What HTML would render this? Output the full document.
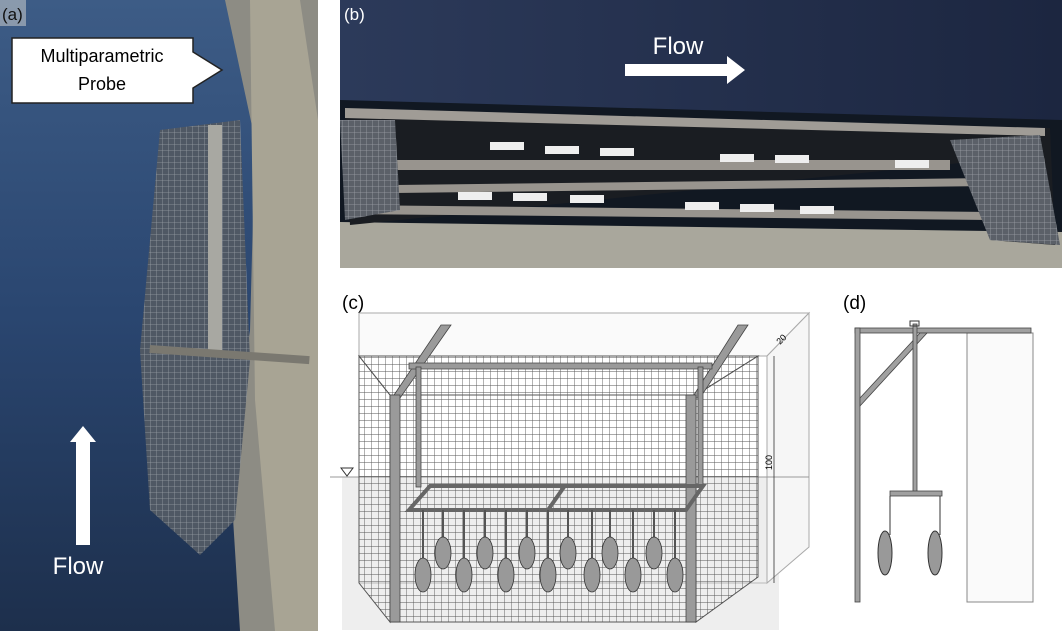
<!DOCTYPE html>
<html><head><meta charset="utf-8"><style>
html,body{margin:0;padding:0;background:#fff;width:1062px;height:631px;overflow:hidden}
svg{display:block;font-family:"Liberation Sans",sans-serif}
</style></head><body>
<svg width="1062" height="631" viewBox="0 0 1062 631" xmlns="http://www.w3.org/2000/svg">
<defs>
<linearGradient id="wa" x1="0" y1="0" x2="0" y2="1"><stop offset="0" stop-color="#3d5c86"/><stop offset="0.5" stop-color="#2a4670"/><stop offset="1" stop-color="#1d2f4c"/></linearGradient>
<linearGradient id="wb" x1="0" y1="0" x2="1" y2="0"><stop offset="0" stop-color="#2c3a5a"/><stop offset="1" stop-color="#1c2640"/></linearGradient>
<pattern id="mesh" width="7" height="7" patternUnits="userSpaceOnUse"><path d="M0 0H7M0 0V7" stroke="#555" stroke-width="0.9" fill="none"/></pattern>
<pattern id="meshp" width="6" height="6" patternUnits="userSpaceOnUse"><path d="M0 0H6M0 0V6" stroke="#c8ccd0" stroke-width="0.8" fill="none"/></pattern>
</defs>
<!-- (a) photo -->
<rect x="0" y="0" width="318" height="631" fill="url(#wa)"/>
<polygon points="225,0 318,0 318,631 240,631 230,470 250,330 255,140" fill="#8d8c84"/>
<polygon points="250,0 300,0 318,120 318,631 275,631 255,400" fill="#a8a494"/>
<polygon points="160,130 240,120 250,360 235,520 200,555 150,510 140,350" fill="#4f5864"/>
<polygon points="160,130 240,120 250,360 235,520 200,555 150,510 140,350" fill="url(#meshp)" opacity="0.6"/>
<rect x="208" y="125" width="14" height="230" fill="#a8a8a2"/>
<rect x="150" y="345" width="160" height="8" fill="#7a7870" transform="rotate(4 150 345)"/>
<rect x="0" y="0" width="26" height="26" fill="#d8d8d4" opacity="0.5"/>
<text x="2" y="20" font-size="17" fill="#111">(a)</text>
<polygon points="12,38 193,38 193,52 222,70 193,88 193,103 12,103" fill="#fff" stroke="#222" stroke-width="1.5"/>
<text x="102" y="62" font-size="18" text-anchor="middle" fill="#000">Multiparametric</text>
<text x="102" y="90" font-size="18" text-anchor="middle" fill="#000">Probe</text>
<polygon points="76,545 76,442 70,442 83,426 96,442 90,442 90,545" fill="#fff"/>
<text x="78" y="574" font-size="24" text-anchor="middle" fill="#fff">Flow</text>
<!-- (b) photo -->
<rect x="340" y="0" width="722" height="268" fill="url(#wb)"/>
<polygon points="340,100 1062,120 1062,268 340,268" fill="#111822"/>
<polygon points="340,222 1062,232 1062,268 340,268" fill="#a9a79c"/>
<polygon points="345,110 1050,128 1055,245 990,240 990,160 350,225" fill="#1a1d22"/>
<polygon points="345,108 1045,128 1045,136 345,118" fill="#a09c96"/>
<polygon points="395,160 950,160 950,170 395,170" fill="#98948e"/>
<polygon points="395,185 990,178 990,186 395,193" fill="#98948e"/>
<polygon points="345,205 990,212 990,220 345,214" fill="#98948e"/>
<polygon points="340,120 395,120 400,210 345,220" fill="#5b6068"/>
<polygon points="340,120 395,120 400,210 345,220" fill="url(#meshp)" opacity="0.6"/>
<polygon points="950,140 1040,135 1060,245 990,240" fill="#5b6068"/>
<polygon points="950,140 1040,135 1060,245 990,240" fill="url(#meshp)" opacity="0.6"/>
<g fill="#eee"><rect x="490" y="142" width="34" height="8"/><rect x="545" y="146" width="34" height="8"/><rect x="600" y="148" width="34" height="8"/><rect x="720" y="154" width="34" height="8"/><rect x="775" y="155" width="34" height="8"/><rect x="895" y="160" width="34" height="8"/><rect x="458" y="192" width="34" height="8"/><rect x="513" y="193" width="34" height="8"/><rect x="570" y="195" width="34" height="8"/><rect x="685" y="202" width="34" height="8"/><rect x="740" y="204" width="34" height="8"/><rect x="800" y="206" width="34" height="8"/></g>
<text x="344" y="20" font-size="17" fill="#fff">(b)</text>
<text x="678" y="54" font-size="24" text-anchor="middle" fill="#fff">Flow</text>
<polygon points="625,64 727,64 727,56 745,70 727,84 727,76 625,76" fill="#fff"/>
<!-- (c) drawing -->
<text x="342" y="309" font-size="19" fill="#000">(c)</text>
<polygon points="342,477 779,477 779,630 342,630" fill="#eeeeee"/>
<polygon points="359,356 767,356 809,313 359,313" fill="#fafafa" stroke="#aaa"/>
<polygon points="767,356 809,313 809,547 767,583" fill="#f6f6f6" stroke="#aaa"/>
<line x1="359" y1="313" x2="359" y2="583" stroke="#aaa"/>
<line x1="359" y1="583" x2="767" y2="583" stroke="#bbb"/>
<line x1="330" y1="477" x2="809" y2="477" stroke="#999"/>
<polygon points="341,468 353,468 347,476" fill="none" stroke="#333"/>
<polygon points="359,356 758,356 696,395 390,395" fill="url(#mesh)" stroke="#555"/>
<polygon points="359,356 390,395 390,622 359,583" fill="url(#mesh)" stroke="#555"/>
<polygon points="758,356 696,395 696,622 758,577" fill="url(#mesh)" stroke="#555"/>
<rect x="390" y="395" width="306" height="227" fill="url(#mesh)" stroke="#555"/>
<g fill="#9a9a9a" stroke="#444" stroke-width="0.8">
<polygon points="441,325 451,325 400,398 392,398"/>
<polygon points="738,325 748,325 700,398 692,398"/>
<polygon points="409,363 712,363 712,369 409,369"/>
<rect x="416" y="367" width="5" height="120"/><rect x="698" y="367" width="5" height="120"/>
<rect x="390" y="395" width="10" height="227"/><rect x="686" y="395" width="10" height="227"/>
<polygon points="430,486 703,486 686,510 409,510" fill="none" stroke="#666" stroke-width="4"/>
<line x1="564" y1="487" x2="548" y2="510" stroke="#666" stroke-width="4"/>
</g>
<g stroke="#555" stroke-width="2">
<line x1="443" y1="510" x2="443" y2="537"/><line x1="485" y1="510" x2="485" y2="537"/><line x1="527" y1="510" x2="527" y2="537"/><line x1="568" y1="510" x2="568" y2="537"/><line x1="610" y1="510" x2="610" y2="537"/><line x1="654" y1="510" x2="654" y2="537"/>
<line x1="423" y1="510" x2="423" y2="560"/><line x1="464" y1="510" x2="464" y2="560"/><line x1="506" y1="510" x2="506" y2="560"/><line x1="548" y1="510" x2="548" y2="560"/><line x1="592" y1="510" x2="592" y2="560"/><line x1="633" y1="510" x2="633" y2="560"/><line x1="675" y1="510" x2="675" y2="560"/>
</g>
<g fill="#999" stroke="#333" stroke-width="0.8">
<ellipse cx="443" cy="553" rx="8" ry="16"/><ellipse cx="485" cy="553" rx="8" ry="16"/><ellipse cx="527" cy="553" rx="8" ry="16"/><ellipse cx="568" cy="553" rx="8" ry="16"/><ellipse cx="610" cy="553" rx="8" ry="16"/><ellipse cx="654" cy="553" rx="8" ry="16"/>
<ellipse cx="423" cy="575" rx="8" ry="17"/><ellipse cx="464" cy="575" rx="8" ry="17"/><ellipse cx="506" cy="575" rx="8" ry="17"/><ellipse cx="548" cy="575" rx="8" ry="17"/><ellipse cx="592" cy="575" rx="8" ry="17"/><ellipse cx="633" cy="575" rx="8" ry="17"/><ellipse cx="675" cy="575" rx="8" ry="17"/>
</g>
<line x1="774" y1="356" x2="774" y2="583" stroke="#333" stroke-width="0.8"/>
<text x="0" y="0" font-size="9" transform="translate(772 470) rotate(-90)">100</text>
<text x="0" y="0" font-size="9" transform="translate(780 345) rotate(-45)">20</text>
<!-- (d) drawing -->
<text x="843" y="309" font-size="19" fill="#000">(d)</text>
<rect x="967" y="333" width="66" height="269" fill="#fafafa" stroke="#888"/>
<g fill="#a0a0a0" stroke="#444" stroke-width="0.8">
<rect x="855" y="328" width="176" height="5"/>
<rect x="855" y="328" width="5" height="274"/>
<polygon points="860,398 920,333 927,333 860,406"/>
<rect x="913" y="324" width="4" height="169"/>
<rect x="890" y="491" width="52" height="5"/>
</g>
<rect x="910" y="321" width="9" height="5" fill="none" stroke="#333"/>
<line x1="890" y1="496" x2="890" y2="535" stroke="#333"/><line x1="940" y1="496" x2="940" y2="535" stroke="#333"/>
<ellipse cx="885" cy="553" rx="7" ry="22" fill="#999" stroke="#333"/>
<ellipse cx="935" cy="553" rx="7" ry="22" fill="#999" stroke="#333"/>
</svg>
</body></html>
